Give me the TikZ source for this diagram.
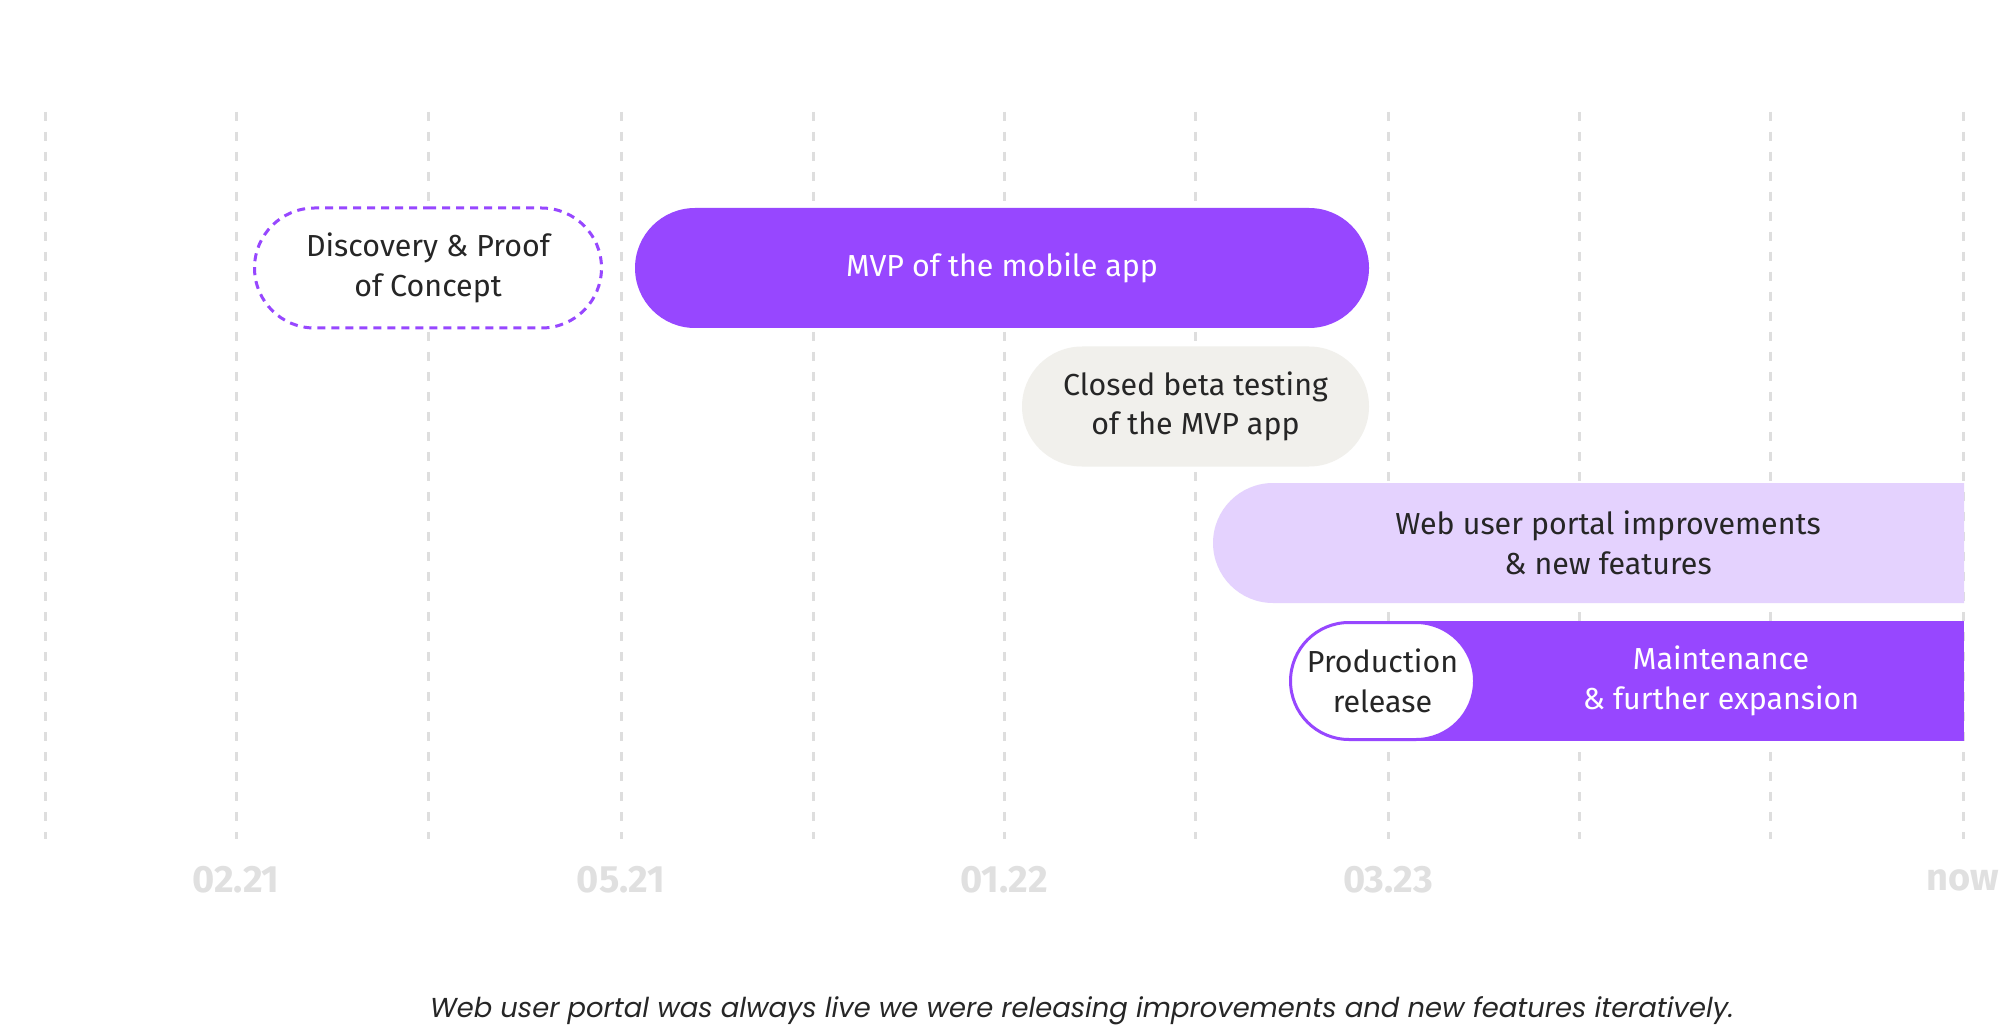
\documentclass[tikz,border=0pt]{standalone}
\usepackage{fontspec}
\setmainfont{Fira Sans}
\newfontfamily\capfont{Poppins}
\usetikzlibrary{shapes.misc}
\definecolor{purp}{HTML}{9747FF}
\definecolor{lav}{HTML}{E4D2FE}
\definecolor{beige}{HTML}{F1F0EC}
\definecolor{gridc}{HTML}{DEDEDE}
\definecolor{datec}{HTML}{E0E0E0}
\definecolor{ink}{HTML}{262626}
\begin{document}
\begin{tikzpicture}[x=0.5pt,y=-0.5pt,
  gridline/.style={draw=gridc, line width=1.5pt, dash pattern=on 4.5pt off 5.5pt},
  bar/.style={rounded rectangle, minimum height=60pt, inner sep=0pt, align=center,
    font=\fontsize{15.2}{19.7}\selectfont, text=ink},
  bartext/.style={align=center, inner sep=0pt, font=\fontsize{15.2}{19.7}\selectfont, text=ink},
  datelabel/.style={font=\fontsize{19}{22}\selectfont\bfseries, text=datec, inner sep=0pt}]
\useasboundingbox[fill=white] (0,0) rectangle (2000,1026);
% grid lines
\foreach \gx in {45,236,428,621,813,1004,1195,1388,1579,1770,1963}{
  \draw[gridline] (\gx,112) -- (\gx,839);
}
% bars
\node[bar, fill=white, draw=purp, line width=1.5pt, dash pattern=on 4pt off 3pt,
  minimum width=173.5pt] (disc) at (428,268) {Discovery \& Proof\\of Concept};
\node[bar, fill=purp, text=white, minimum width=367pt] (mvp) at (1002,268) {MVP of the mobile app};
\node[bar, fill=beige, minimum width=173.5pt] (beta) at (1195.5,406.5) {Closed beta testing\\of the MVP app};
\node[bar, fill=lav, minimum width=375.5pt, rounded rectangle right arc=none] (web) at (1588.5,543) {};
\node[bartext] (webt) at (1608,543) {Web user portal improvements\\\& new features};
\node[rectangle, fill=purp, minimum width=292pt, minimum height=60pt, inner sep=0pt] (maint) at (1672,681) {};
\node[bartext, text=white] (maintt) at (1721,681) {Maintenance\\\& further expansion};
\node[bar, fill=white, draw=purp, line width=1.5pt, minimum width=92pt, minimum height=58.5pt] (prod) at (1382.5,681) {Production\\release};
% dates
\node[datelabel] (d1) at (236,880) {02.21};
\node[datelabel] (d2) at (621,880) {05.21};
\node[datelabel] (d3) at (1004,880) {01.22};
\node[datelabel] (d4) at (1388,880) {03.23};
\node[datelabel] (d5) at (1963,880) {now};
% caption
\node[font=\capfont\itshape\fontsize{13.7}{16}\selectfont, text=ink, inner sep=0pt] (cap) at (1082,1011)
  {Web user portal was always live we were releasing improvements and new features iteratively.};
\end{tikzpicture}
\end{document}
